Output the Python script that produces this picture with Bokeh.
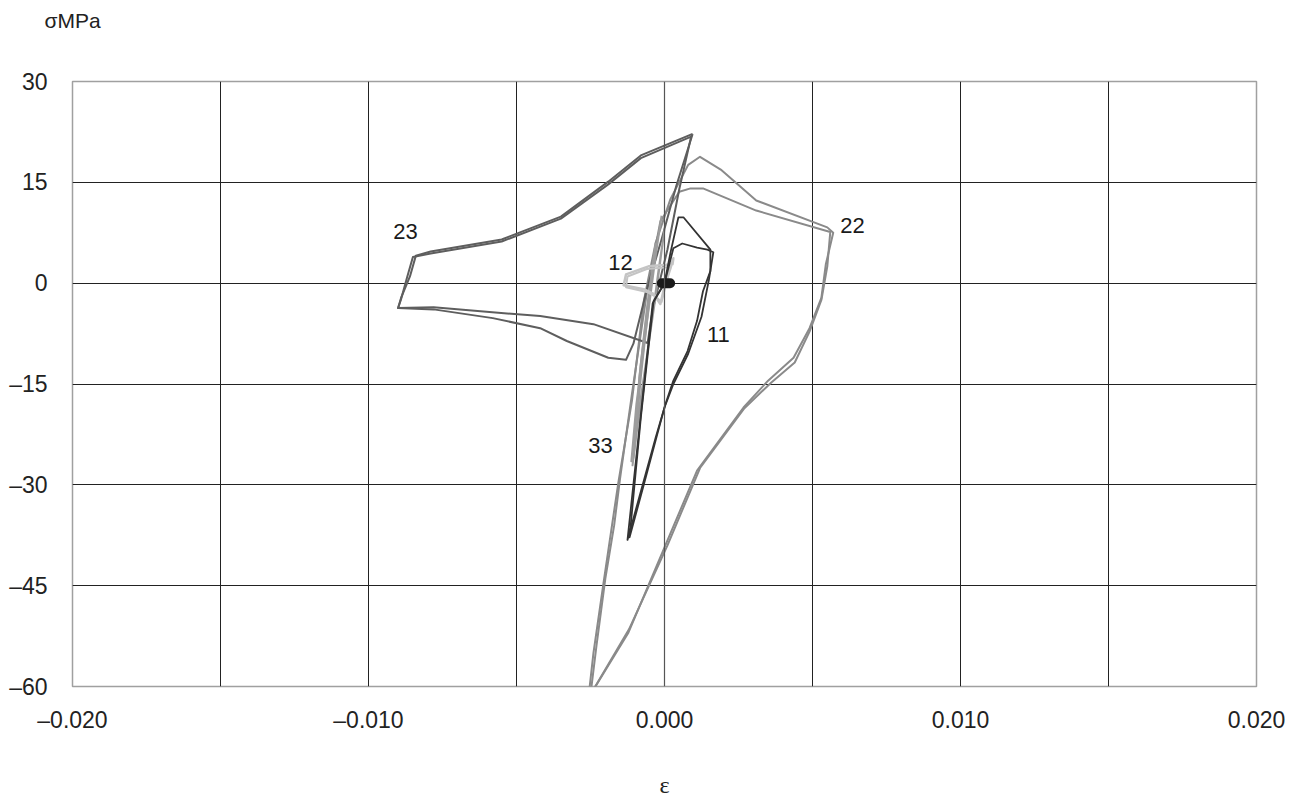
from bokeh.plotting import figure
from bokeh.models import FixedTicker, CustomJSTickFormatter, Label, Span, Range1d, LinearAxis
from bokeh.embed import file_html
from bokeh.resources import INLINE

# --- stress-strain loops per component (strain, stress in MPa) ---
# component 22: two cycles
x22a = [-0.00257, -0.0024, -0.00206, -0.0018, -0.00155, -0.0011, -0.0007, -0.0003, 0.0002, 0.0008,
        0.0012, 0.0019, 0.0031, 0.0055, 0.0057, 0.00545, 0.0053, 0.0049, 0.00436, 0.0035,
        0.00267, 0.0011, 0.0, -0.00122, -0.00257]
y22a = [-61.7, -55.0, -44.6, -36.8, -29.4, -17.5, -2.7, 6.0, 12.5, 17.6,
        18.8, 16.9, 12.3, 8.3, 7.5, 2.8, -2.2, -6.7, -11.1, -14.5,
        -18.5, -27.9, -39.3, -52.0, -61.7]
x22b = [-0.0025, -0.0023, -0.0020, -0.0017, -0.0015, -0.0011, -0.0006, -0.00014, 0.0005, 0.00088,
        0.0013, 0.0031, 0.0056, 0.0055, 0.0053, 0.0049, 0.0044, 0.0036, 0.0027, 0.0012,
        0.0001, -0.0012, -0.0025]
y22b = [-61.2, -54.0, -44.0, -36.0, -29.0, -16.5, -1.5, 9.2, 13.6, 14.1,
        14.1, 10.8, 7.6, 2.5, -2.5, -7.2, -11.8, -14.8, -18.6, -27.5,
        -39.0, -51.5, -61.2]

# component 23: two cycles
x23a = [0.00095, -0.0008, -0.0019, -0.0035, -0.0055, -0.0079, -0.0084, -0.0086, -0.0089, -0.0090,
        -0.0078, -0.0058, -0.0042, -0.0033, -0.0019, -0.0013, -0.00105, -0.0006, -0.0001, 0.0004, 0.00095]
y23a = [22.2, 19.0, 15.1, 9.9, 6.5, 4.7, 4.1, 1.0, -2.2, -3.7,
        -3.9, -5.2, -6.7, -8.6, -11.1, -11.4, -9.0, -1.0, 6.5, 14.5, 22.2]
x23b = [0.0009, -0.0008, -0.0019, -0.0035, -0.0055, -0.0079, -0.0085, -0.0087, -0.0089, -0.0090,
        -0.0078, -0.0042, -0.0024, -0.00057, -0.0004, 0.0001, 0.0005, 0.0009]
y23b = [21.8, 18.6, 14.7, 9.6, 6.2, 4.4, 3.9, 0.8, -2.4, -3.7,
        -3.6, -4.9, -6.1, -8.9, -4.0, 5.0, 14.0, 21.8]

# component 33: narrow cycles
x33a = [0.0000, -0.0003, -0.0007, -0.00108, -0.0009, -0.0005, -0.0002, 0.0000]
y33a = [8.0, -2.0, -14.0, -27.1, -20.0, -8.0, 2.0, 8.0]
x33b = [-0.0001, -0.0005, -0.0008, -0.00112, -0.00095, -0.0006, -0.0003, -0.0001]
y33b = [10.0, -1.0, -12.0, -26.5, -18.0, -6.0, 4.0, 10.0]
x33c = [-0.0003, -0.0006, -0.00085, -0.00105, -0.001, -0.0008, -0.0005, -0.0003]
y33c = [6.0, -4.0, -14.0, -26.0, -24.0, -14.0, -2.0, 6.0]

# component 12: small loop near the origin
x12a = [0.0002, 0.0003, 0.00027, -0.00054, -0.0013, -0.00138, -0.0007, -0.00037, -0.00014, 0.0000, 0.0002]
y12a = [2.2, 3.7, 2.8, 2.5, 1.3, -0.3, -0.9, -1.6, -3.1, -0.5, 2.2]
x12b = [0.00015, 0.00028, 0.0002, -0.0006, -0.00125, -0.0013, -0.0006, -0.0003, -0.0001, 0.00005, 0.00015]
y12b = [1.8, 3.3, 2.4, 2.1, 1.0, -0.6, -1.3, -2.0, -2.8, -0.2, 1.8]

# component 11: two cycles
x11a = [0.0, 0.0002, 0.00047, 0.00064, 0.00155, 0.00155, 0.0013, 0.0011, 0.00078, 0.0003,
        0.00003, -0.00024, -0.0007, -0.00118, -0.0008, -0.00037, 0.0]
y11a = [0.0, 4.5, 9.8, 9.8, 5.0, 1.8, -1.2, -5.6, -10.1, -14.5,
        -18.0, -22.4, -30.0, -37.8, -20.0, -2.7, 0.0]
x11b = [0.0, 0.0003, 0.0006, 0.0011, 0.00145, 0.00165, 0.0015, 0.00125, 0.0008, 0.0003,
        0.0, -0.0003, -0.00125, -0.0004, 0.0]
y11b = [0.0, 5.2, 5.9, 5.3, 5.0, 4.6, 0.5, -5.0, -10.5, -15.0,
        -18.5, -23.0, -38.2, -3.0, 0.0]

# dense cluster of points at the start of loading
x_origin = [-0.00009, 0.00019]
y_origin = [0.0, 0.0]

# curve tags: (text, strain, stress)
tags = [("23", -0.00875, 7.7), ("12", -0.00149, 3.1), ("22", 0.00635, 8.6),
        ("11", 0.00182, -7.7), ("33", -0.00216, -24.1)]

x_ticks = [-0.020, -0.010, 0.0, 0.010, 0.020]
x_grid = [-0.015, -0.010, -0.005, 0.005, 0.010, 0.015]
y_ticks = [-60, -45, -30, -15, 0, 15, 30]
y_grid = [-45, -30, -15, 0, 15]

FONT = "Liberation Sans"
p = figure(width=1299, height=800, output_backend="svg", toolbar_location=None,
           x_range=Range1d(-0.020, 0.020), y_range=Range1d(-60, 30),
           min_border_left=72, min_border_right=43, min_border_top=81, min_border_bottom=113)
p.background_fill_color = "white"
p.border_fill_color = "white"
p.outline_line_color = "#a0a0a0"
p.outline_line_width = 1.5

p.xaxis.ticker = FixedTicker(ticks=x_ticks)
p.yaxis.ticker = FixedTicker(ticks=y_ticks)
p.xgrid.ticker = FixedTicker(ticks=x_grid)
p.ygrid.ticker = FixedTicker(ticks=y_grid)
for g in (p.xgrid, p.ygrid):
    g.grid_line_color = "#222222"
    g.grid_line_width = 1
    g.grid_line_alpha = 1

p.xaxis.formatter = CustomJSTickFormatter(
    code="return (tick < -1e-9 ? '\u2013' : '') + Math.abs(tick).toFixed(3);")
p.yaxis.formatter = CustomJSTickFormatter(
    code="return (tick < 0 ? '\u2013' : '') + Math.abs(tick).toFixed(0);")
for ax in (p.xaxis, p.yaxis):
    ax.axis_line_color = None
    ax.major_tick_line_color = None
    ax.minor_tick_line_color = None
    ax.major_label_text_font = FONT
    ax.major_label_text_font_size = "23px"
    ax.major_label_text_color = "#222222"
p.xaxis.major_label_standoff = 14
p.yaxis.major_label_standoff = 19

# strain axis title
p.xaxis.axis_label = "\u03b5"
p.xaxis.axis_label_text_font = "Liberation Serif"
p.xaxis.axis_label_text_font_style = "normal"
p.xaxis.axis_label_text_font_size = "24px"
p.xaxis.axis_label_text_color = "#222222"
p.xaxis.axis_label_standoff = 36

# stress unit shown above the stress axis as a single top tick label
p.title.visible = False
unit_axis = LinearAxis(ticker=FixedTicker(ticks=[-0.0200]),
                       formatter=CustomJSTickFormatter(code="return '\u03c3MPa';"),
                       axis_line_color=None, major_tick_line_color=None,
                       minor_tick_line_color=None, major_label_standoff=44,
                       major_label_text_font=FONT, major_label_text_font_size="21px",
                       major_label_text_color="#222222")
p.add_layout(unit_axis, "above")

p.add_layout(Span(location=0, dimension="height", line_color="#555555", line_width=1.2))

p.line(x22a, y22a, line_color="#8a8a8a", line_width=2, line_join="round")
p.line(x22b, y22b, line_color="#8a8a8a", line_width=2, line_join="round")
p.line(x23a, y23a, line_color="#5e5e5e", line_width=2, line_join="round")
p.line(x23b, y23b, line_color="#5e5e5e", line_width=2, line_join="round")
p.line(x33a, y33a, line_color="#9c9c9c", line_width=2, line_join="round")
p.line(x33b, y33b, line_color="#9c9c9c", line_width=2, line_join="round")
p.line(x33c, y33c, line_color="#9c9c9c", line_width=2, line_join="round")
p.line(x12a, y12a, line_color="#c4c4c4", line_width=2.5, line_join="round")
p.line(x12b, y12b, line_color="#c4c4c4", line_width=2, line_join="round")
p.line(x11a, y11a, line_color="#333333", line_width=1.8, line_join="round")
p.line(x11b, y11b, line_color="#333333", line_width=1.8, line_join="round")
p.line(x_origin, y_origin, line_color="#1a1a1a", line_width=10, line_cap="round")

for t, tx, ty in tags:
    p.add_layout(Label(x=tx, y=ty, text=t, text_font=FONT, text_font_size="22px",
                       text_color="#1a1a1a", text_align="center", text_baseline="middle"))

open("out.html", "w").write(file_html(p, INLINE))
